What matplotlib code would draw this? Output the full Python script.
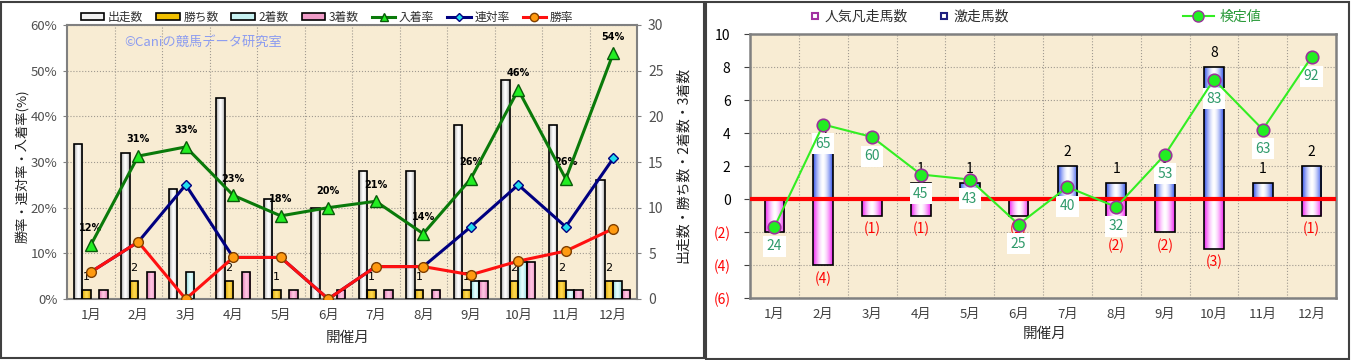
import numpy as np
import matplotlib
matplotlib.use("Agg")
import matplotlib.pyplot as plt
from matplotlib.patches import Patch, Rectangle
from matplotlib.lines import Line2D
from matplotlib.colors import to_rgb

plt.rcParams['font.family'] = ['Noto Sans CJK JP', 'DejaVu Sans']

# ---- data (left chart) ----
months = ["%d月" % i for i in range(1, 13)]
starts = [17, 16, 12, 22, 11, 10, 14, 14, 19, 24, 19, 13]
wins = [1, 2, 0, 2, 1, 0, 1, 1, 1, 2, 2, 2]
seconds = [0, 0, 3, 0, 0, 0, 0, 0, 2, 4, 1, 2]
thirds = [1, 3, 0, 3, 1, 1, 1, 1, 2, 4, 1, 1]
win_rate = [5.9, 12.5, 0.0, 9.1, 9.1, 0.0, 7.1, 7.1, 5.3, 8.3, 10.5, 15.4]
rentai_rate = [5.9, 12.5, 25.0, 9.1, 9.1, 0.0, 7.1, 7.1, 15.8, 25.0, 15.8, 30.8]
place_rate = [11.8, 31.3, 33.3, 22.7, 18.2, 20.0, 21.4, 14.3, 26.3, 45.8, 26.3, 53.8]

# ---- data (right chart) ----
gekiso = [0, 3, 0, 1, 1, 0, 2, 1, 1, 8, 1, 2]      # 激走馬数
bonso = [2, 4, 1, 1, 0, 1, 0, 2, 2, 3, 0, 1]       # 人気凡走馬数
kentei = [24, 65, 60, 45, 43, 25, 40, 32, 53, 83, 63, 92]

W, H = 1351, 360
BG = '#F8ECD3'
x = np.arange(12)


def gradient_bars(ax, xs, heights, width, edge_col, mid_col, bottom=0, zorder=3):
    u = np.linspace(0, 1, 64)
    t = np.abs(2 * u - 1) ** 1.6
    c0 = np.array(to_rgb(mid_col))
    c1 = np.array(to_rgb(edge_col))
    img = (c0[None, :] * (1 - t[:, None]) + c1[None, :] * t[:, None])[None, :, :]
    xs = [a for a, h in zip(xs, heights) if h != 0]
    hs = [h for h in heights if h != 0]
    bars = ax.bar(xs, hs, width, bottom=bottom, facecolor='none',
                  edgecolor='black', linewidth=1.2, zorder=zorder + 0.1)
    for b in bars:
        x0, y0 = b.get_x(), b.get_y()
        x1, y1 = x0 + b.get_width(), y0 + b.get_height()
        im = ax.imshow(img, extent=(x0, x1, min(y0, y1), max(y0, y1)),
                       aspect='auto', zorder=zorder, interpolation='bilinear')
        im.set_clip_path(b)
    return bars


fig = plt.figure(figsize=(W / 100, H / 100), dpi=100)

# panel frames
fig.add_artist(Rectangle((1 / W, 2 / H), 703 / W, 356 / H, transform=fig.transFigure,
                         fill=False, ec='#404040', lw=1.5))
fig.add_artist(Rectangle((706 / W, 1 / H), 643 / W, 357 / H, transform=fig.transFigure,
                         fill=False, ec='#404040', lw=1.5))

# ================= left chart =================
ax = fig.add_axes([67 / W, 61 / H, 570 / W, 274 / H])
ax.set_facecolor(BG)
bw = 0.175
gradient_bars(ax, x - 0.27, starts, bw, '#9A9A9A', '#FFFFFF')
gradient_bars(ax, x - 0.09, wins, bw, '#C89400', '#FFD84A')
gradient_bars(ax, x + 0.09, seconds, bw, '#7CCCCC', '#E4FFFF')
gradient_bars(ax, x + 0.27, thirds, bw, '#D86AA8', '#FFC4E2')
for i, v in enumerate(wins):
    if v:
        ax.annotate(str(v), (x[i] - 0.09, v), xytext=(0, 9), textcoords='offset points',
                    ha='center', va='center', fontsize=8, family='DejaVu Sans')
ax.set_xlim(-0.5, 11.5)
ax.set_ylim(0, 30)
ax.set_yticks(range(0, 31, 5))
ax.set_xticks(x)
ax.set_xticklabels(months)
ax.set_xticks(np.arange(0.5, 11.5, 1), minor=True)
ax.grid(axis='y', which='major', ls=':', color='#A09A90', lw=0.8)
ax.grid(axis='x', which='minor', ls=':', color='#A09A90', lw=0.8)
ax.set_axisbelow(True)
for s in ax.spines.values():
    s.set_color('#808080')
    s.set_linewidth(1.5)

ax2 = ax.twinx()
# counts on the right, rates on the left
ax.yaxis.tick_right()
ax2.yaxis.tick_left()
ax.tick_params(axis='x', which='both', length=0, pad=7, labelsize=9.5, labelcolor='#404040')
ax.tick_params(axis='y', length=3, labelsize=10, labelcolor='#505050', color='#808080', pad=5)

ax2.plot(x, place_rate, color='#0A7A0A', lw=2.2, marker='^', ms=9,
         mfc='#22EE22', mec='#0A5A0A', zorder=5)
ax2.plot(x, rentai_rate, color='#000080', lw=2.2, marker='D', ms=5,
         mfc='#22DDEE', mec='#000080', zorder=5)
ax2.plot(x, win_rate, color='#FF1010', lw=2.2, marker='o', ms=7,
         mfc='#FF9A10', mec='#804000', zorder=6)
for i, v in enumerate(place_rate):
    ax2.annotate("%d%%" % round(v), (x[i], v), xytext=(0, 12), textcoords='offset points',
                 ha='center', va='center', fontsize=7, fontweight='bold',
                 family='DejaVu Sans')
ax2.set_ylim(0, 60)
ax2.set_xlim(-0.5, 11.5)
ax2.set_yticks(range(0, 61, 10))
ax2.set_yticklabels(["%d%%" % v for v in range(0, 61, 10)])
ax2.tick_params(axis='y', length=3, labelsize=9.5, labelcolor='#505050', color='#808080', pad=4)
for s in ax2.spines.values():
    s.set_visible(False)

fig.text(22 / W, 1 - 166 / H, "勝率・連対率・入着率(%)", rotation=90, ha='center',
         va='center', fontsize=9.5, color='#202020')
fig.text(683 / W, 1 - 165 / H, "出走数・勝ち数・2着数・3着数", rotation=90, ha='center',
         va='center', fontsize=10, color='#202020')
fig.text(348 / W, 1 - 338 / H, "開催月", ha='center', va='center', fontsize=10.5, color='#303030')
fig.text(124 / W, 1 - 42 / H, "©Caniの競馬データ研究室", ha='left', va='center',
         fontsize=9.5, color='#8C9CF0')

hl = [Patch(fc='#F0F0F0', ec='black', lw=1.2, label='出走数'),
      Patch(fc='#F2C000', ec='black', lw=1.2, label='勝ち数'),
      Patch(fc='#C8F2F2', ec='black', lw=1.2, label='2着数'),
      Patch(fc='#F09CC8', ec='black', lw=1.2, label='3着数'),
      Line2D([], [], color='#0A7A0A', lw=2.2, marker='^', ms=6, mfc='#22EE22',
             mec='#0A5A0A', label='入着率'),
      Line2D([], [], color='#000080', lw=2.2, marker='D', ms=4, mfc='#22DDEE',
             mec='#000080', label='連対率'),
      Line2D([], [], color='#FF1010', lw=2.2, marker='o', ms=6, mfc='#FF9A10',
             mec='#804000', label='勝率')]
fig.legend(handles=hl, loc='center', bbox_to_anchor=(327 / W, 1 - 17 / H), ncol=7,
           frameon=False, fontsize=8.5, handlelength=2.0, handleheight=0.5,
           columnspacing=1.1, handletextpad=0.3, labelcolor='#303030')

# ================= right chart =================
bx = fig.add_axes([750 / W, 62 / H, 586 / W, 264 / H])
bx.set_facecolor(BG)
neg = [-v for v in bonso]
gradient_bars(bx, x, gekiso, 0.4, '#3050E8', '#FFFFFF')
gradient_bars(bx, x, neg, 0.4, '#F020F0', '#FFFFFF')
bx.axhline(0, color='#FF0000', lw=3, zorder=4)
for i in range(12):
    if gekiso[i]:
        bx.annotate(str(gekiso[i]), (x[i], gekiso[i]), xytext=(0, 10),
                    textcoords='offset points', ha='center', va='center', fontsize=10)
    if bonso[i]:
        bx.annotate("(%d)" % bonso[i], (x[i], neg[i]), xytext=(0, -10),
                    textcoords='offset points', ha='center', va='center', fontsize=10,
                    color='#FF0000')
bx.set_xlim(-0.5, 11.5)
bx.set_ylim(-6, 10)
yt = list(range(-6, 11, 2))
bx.set_yticks(yt)
bx.set_yticklabels(["(%d)" % -v if v < 0 else str(v) for v in yt])
for lab, v in zip(bx.get_yticklabels(), yt):
    lab.set_color('#FF0000' if v < 0 else 'black')
bx.set_xticks(x)
bx.set_xticklabels(months)
bx.set_xticks(np.arange(0.5, 11.5, 1), minor=True)
bx.tick_params(axis='x', which='both', length=0, pad=7, labelsize=9.5, labelcolor='#404040')
bx.tick_params(axis='y', length=4, labelsize=10, color='#404040', pad=10)
bx.grid(axis='y', which='major', ls=':', color='#A09A90', lw=0.8)
bx.grid(axis='x', which='minor', ls=':', color='#A09A90', lw=0.8)
bx.set_axisbelow(True)
for s in bx.spines.values():
    s.set_color('#808080')
    s.set_linewidth(1.8)

bt = bx.twinx()
bt.plot(x, kentei, color='#33EE22', lw=1.5, marker='o', ms=9, mfc='#22EE22',
        mec='#993399', mew=1.2, zorder=5)
for i, v in enumerate(kentei):
    bt.annotate(str(v), (x[i], v), xytext=(0, -14), textcoords='offset points',
                ha='center', va='center', fontsize=10, color='#2E9A6A',
                bbox=dict(fc='white', ec='none', pad=2.5))
bt.set_ylim(-4.4, 101.2)
bt.set_xlim(-0.5, 11.5)
bt.set_yticks([])
for s in bt.spines.values():
    s.set_visible(False)

fig.text(1045 / W, 1 - 334 / H, "開催月", ha='center', va='center', fontsize=10.5, color='#303030')

rl = [Line2D([], [], ls='none', marker='s', ms=5, mfc='white', mec='#A030A0', mew=1.5,
             label='人気凡走馬数'),
      Line2D([], [], ls='none', marker='s', ms=5, mfc='white', mec='#202080', mew=1.5,
             label='激走馬数')]
fig.legend(handles=rl, loc='center', bbox_to_anchor=(909 / W, 1 - 17 / H), ncol=2,
           frameon=False, fontsize=10, handlelength=0.8, columnspacing=2.2,
           handletextpad=0.3, labelcolor='#303030')
kl = [Line2D([], [], color='#33EE22', lw=1.5, marker='o', ms=8, mfc='#22EE22',
             mec='#993399', label='検定値')]
fig.legend(handles=kl, loc='center', bbox_to_anchor=(1222 / W, 1 - 17 / H),
           frameon=False, fontsize=10, handlelength=2.2, handletextpad=0.4,
           labelcolor='#2A9A3A')

fig.savefig("out.png", dpi=100)
